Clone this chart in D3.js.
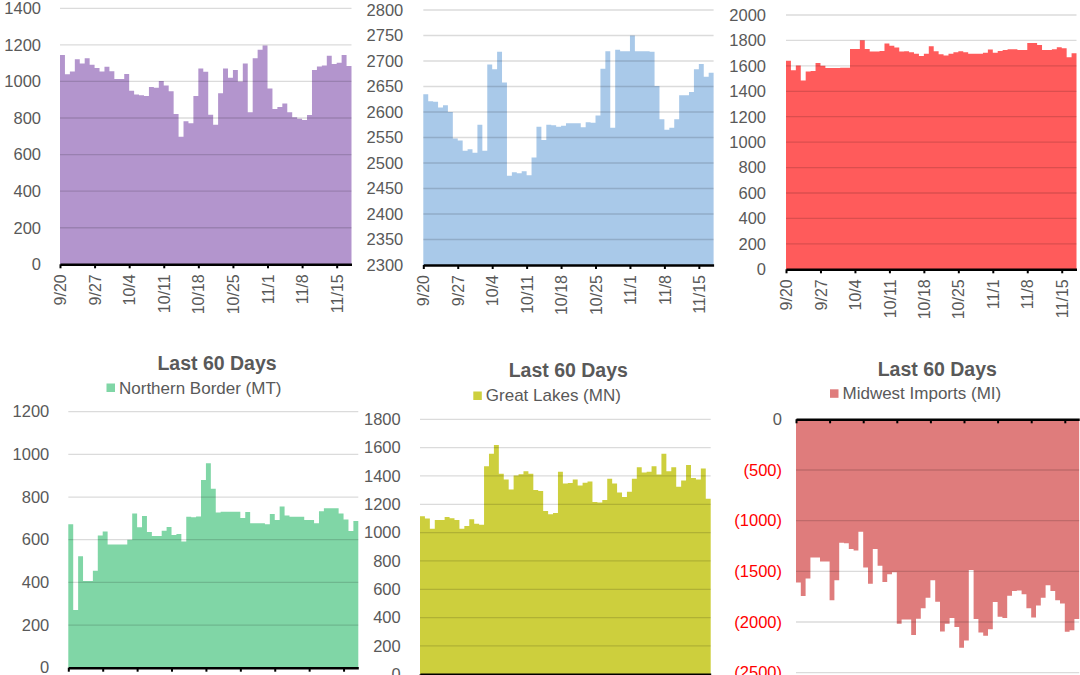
<!DOCTYPE html>
<html><head><meta charset="utf-8">
<script src="https://cdn.jsdelivr.net/npm/d3@7"></script>
<style>
html,body{margin:0;padding:0;background:#fff;overflow:hidden}
svg{display:block;font-family:"Liberation Sans",Arial,sans-serif}
</style></head><body>
<svg id="c" width="1080" height="675"></svg>
<script>
// ---- data ----
const firstDay = "2019-09-20";
const dayAfterLast = "2019-11-18";
const tickLabels = ["9/20","9/27","10/4","10/11","10/18","10/25","11/1","11/8","11/15"];

const topLeftValues = [1145,1040,1054,1122,1098,1127,1091,1073,1054,1080,1056,1014,1014,1041,949,929,924,920,969,965,1003,978,947,822,698,782,771,920,1071,1053,818,763,936,1071,1020,1062,1000,1098,832,1127,1173,1196,962,849,860,880,831,804,796,789,816,1063,1082,1087,1140,1096,1102,1144,1084];
const topMidValues = [2635,2621,2620,2609,2613,2600,2548,2544,2524,2527,2520,2575,2524,2693,2684,2718,2658,2475,2482,2480,2484,2476,2511,2571,2545,2575,2574,2571,2573,2578,2578,2578,2570,2580,2579,2593,2685,2719,2569,2722,2719,2719,2750,2719,2719,2719,2718,2651,2586,2565,2569,2586,2633,2633,2639,2684,2694,2669,2677];
const topRightValues = [1641,1565,1602,1484,1555,1560,1623,1600,1584,1584,1584,1586,1586,1733,1733,1801,1733,1712,1712,1717,1775,1759,1744,1712,1715,1707,1696,1678,1696,1754,1715,1691,1681,1696,1707,1715,1707,1696,1696,1696,1704,1728,1704,1717,1725,1731,1731,1725,1725,1780,1780,1765,1725,1725,1731,1746,1738,1668,1699];
const northernBorderMT = [672,270,523,406,406,455,620,639,578,578,578,578,600,723,658,711,636,617,617,642,659,622,627,591,708,705,709,880,958,839,727,731,731,731,731,702,730,677,677,677,672,720,692,756,714,708,708,708,692,692,677,733,747,747,747,723,695,641,688];
const greatLakesMN = [1116,1099,1027,1090,1090,1111,1102,1090,1027,1046,1095,1062,1055,1469,1556,1619,1415,1375,1305,1404,1413,1434,1415,1301,1294,1153,1130,1139,1429,1347,1350,1375,1333,1352,1361,1216,1212,1230,1380,1347,1284,1251,1289,1380,1462,1425,1429,1469,1411,1556,1434,1462,1324,1368,1478,1385,1375,1453,1240];
const midwestImportsMI = [-1610,-1744,-1571,-1364,-1364,-1403,-1403,-1786,-1588,-1218,-1224,-1279,-1295,-1110,-1461,-1623,-1279,-1445,-1604,-1529,-1510,-2016,-1974,-1974,-2127,-1968,-1864,-1760,-1588,-1799,-2094,-2016,-1961,-2049,-2253,-2182,-1487,-1971,-2104,-2136,-2071,-1802,-1948,-1961,-1740,-1695,-1688,-1727,-1864,-1955,-1838,-1760,-1636,-1695,-1786,-1818,-2097,-2081,-1971];

const titleText = "Last 60 Days";
const seriesNames = ["Northern Border (MT)","Great Lakes (MN)","Midwest Imports (MI)"];

// ---- drawing ----
const svg = d3.select("#c");
const parse = d3.timeParse("%Y-%m-%d");
const start = parse(firstDay), end = parse(dayAfterLast);
const days = d3.timeDay.range(start, end);
const tickDates = tickLabels.map(s => { const [m, d] = s.split("/"); return new Date(2019, +m - 1, +d); });
const grey = "#595959";

const panels = [
  {values: topLeftValues, color: "#b395cd", x0: 60, x1: 351.5, yTop: 8.3, yBot: 264.3, dom: [0, 1400], base: 0, step: 200, pad: 19, xLabels: true},
  {values: topMidValues, color: "#a9c9e9", x0: 423.3, x1: 713.6, yTop: 10, yBot: 265, dom: [2300, 2800], base: 2300, step: 50, pad: 20, xLabels: true},
  {values: topRightValues, color: "#ff5b5b", x0: 786, x1: 1076.5, yTop: 15, yBot: 269.3, dom: [0, 2000], base: 0, step: 200, pad: 20, xLabels: true},
  {values: northernBorderMT, color: "#80d6a6", x0: 68.3, x1: 358.3, yTop: 411.7, yBot: 667.7, dom: [0, 1200], base: 0, step: 200, pad: 19, xLabels: false,
   title: {x: 217, y: 369.5}, legend: {sq: 106.5, sqY: 383.5, y: 393.5, name: seriesNames[0]}},
  {values: greatLakesMN, color: "#cdcf3d", x0: 420, x1: 710.7, yTop: 419.3, yBot: 674.3, dom: [0, 1800], base: 0, step: 200, pad: 19.3, xLabels: false,
   title: {x: 568.3, y: 376.7}, legend: {sq: 473.3, sqY: 391.5, y: 401, name: seriesNames[1]}},
  {values: midwestImportsMI, color: "#df7c7c", x0: 796, x1: 1079.2, yTop: 419.3, yBot: 672.7, dom: [-2500, 0], base: 0, step: 500, pad: 14, xLabels: false, neg: true,
   title: {x: 937.3, y: 375.5}, legend: {sq: 830, sqY: 389.3, y: 399.3, name: seriesNames[2]}}
];

panels.forEach(p => {
  const g = svg.append("g");
  const x = d3.scaleTime().domain([start, end]).range([p.x0, p.x1]);
  const y = d3.scaleLinear().domain(p.dom).range([p.yBot, p.yTop]);
  const pts = days.map((d, i) => ({d, v: p.values[i]}));
  pts.push({d: end, v: p.values[p.values.length - 1]});
  const area = d3.area().curve(d3.curveStepAfter)
    .x(d => x(d.d)).y0(y(p.base)).y1(d => y(d.v));
  g.append("path").attr("d", area(pts)).attr("fill", p.color);

  const yTicks = d3.range(p.dom[0], p.dom[1] + 0.001, p.step);
  g.append("g").selectAll("line").data(yTicks.filter(t => t !== p.base)).join("line")
    .attr("x1", p.x0).attr("x2", p.x1)
    .attr("y1", d => y(d)).attr("y2", d => y(d))
    .attr("stroke", "#000").attr("stroke-opacity", 0.14).attr("stroke-width", 1.3);

  const fmt = p.neg ? (d => d === 0 ? "0" : "(" + Math.abs(d) + ")") : d3.format("d");
  const ya = g.append("g").attr("transform", `translate(${p.x0},0)`)
    .call(d3.axisLeft(y).tickValues(yTicks).tickSize(0).tickPadding(p.pad).tickFormat(fmt));
  ya.select(".domain").remove();
  ya.selectAll("text").attr("font-size", 16.5).attr("font-family", "Liberation Sans, Arial, sans-serif")
    .attr("fill", d => (p.neg && d !== 0) ? "#ff0000" : grey);

  const xa = g.append("g").attr("transform", `translate(0,${y(p.base)})`)
    .call(d3.axisBottom(x).tickValues(tickDates).tickSize(4).tickSizeOuter(0)
      .tickFormat(p.xLabels ? (d, i) => tickLabels[i] : ""));
  xa.select(".domain").attr("stroke", "#000").attr("stroke-width", 2.5);
  xa.selectAll(".tick line").attr("stroke", "#000").attr("stroke-width", 2);
  if (p.xLabels) {
    xa.selectAll("text")
      .attr("font-size", 16).attr("font-family", "Liberation Sans, Arial, sans-serif").attr("fill", grey)
      .attr("transform", "rotate(-90)").attr("text-anchor", "end")
      .attr("x", -10).attr("y", 0).attr("dy", "0.35em");
  } else {
    xa.selectAll("text").remove();
  }

  if (p.title) {
    svg.append("text").attr("x", p.title.x).attr("y", p.title.y).attr("text-anchor", "middle")
      .attr("font-size", 19.5).attr("font-weight", "bold").attr("fill", grey).text(titleText);
    svg.append("rect").attr("x", p.legend.sq).attr("y", p.legend.sqY).attr("width", 8.5).attr("height", 8.5)
      .attr("fill", p.color);
    svg.append("text").attr("x", p.legend.sq + 12.5).attr("y", p.legend.y)
      .attr("font-size", 17).attr("fill", grey).text(p.legend.name);
  }
});
</script>
</body></html>
